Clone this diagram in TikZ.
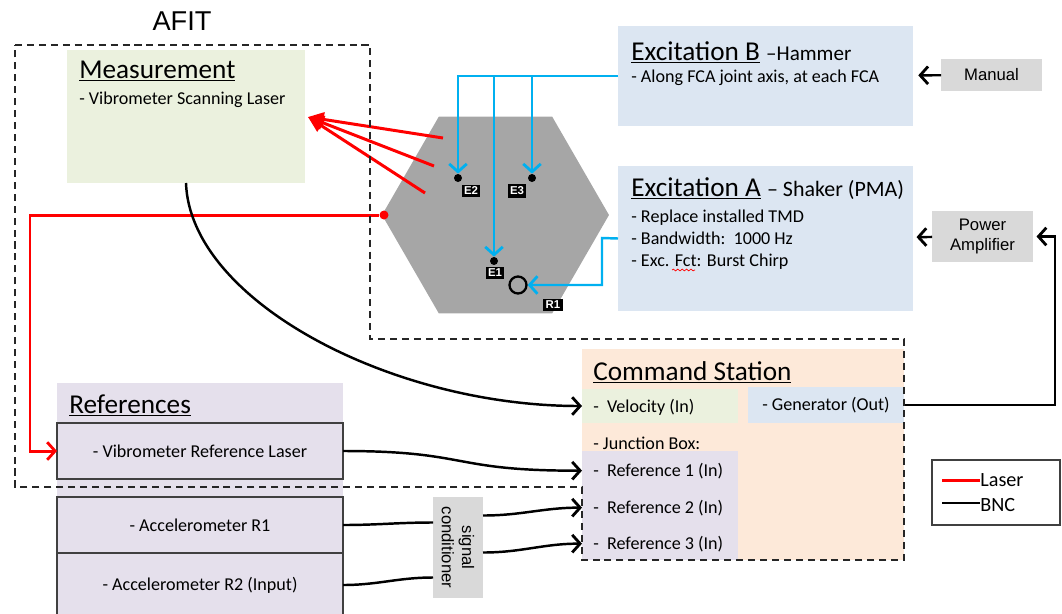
\documentclass[tikz,border=0pt]{standalone}
\usepackage{fontspec}
\setmainfont{Carlito}
\newfontfamily\arialfont{Liberation Sans}
\usetikzlibrary{arrows.meta}
\usetikzlibrary{positioning}
\usetikzlibrary{shapes.geometric}
\usetikzlibrary{decorations.pathmorphing}
\usetikzlibrary{calc}
\usetikzlibrary{fit}

\definecolor{measgreen}{RGB}{235,241,222}
\definecolor{excblue}{RGB}{220,230,242}
\definecolor{cmdorange}{RGB}{253,233,217}
\definecolor{refpurple}{RGB}{229,224,236}
\definecolor{boxgray}{RGB}{217,217,217}
\definecolor{plategray}{RGB}{166,166,166}
\definecolor{cableblue}{RGB}{0,176,240}

\begin{document}
\begin{tikzpicture}[x=0.02cm, y=-0.02cm,
    >={Straight Barb[length=4.5pt,width=10pt,line width=1.6pt]},
    region/.style={inner sep=0pt, outer sep=0pt},
    refbox/.style={region, fill=refpurple, draw=black!75, line width=0.6pt},
    graybox/.style={region, fill=boxgray},
    head/.style={inner sep=0pt, anchor=base west, font=\fontsize{15.5}{18}\selectfont},
    txt/.style={inner sep=0pt, anchor=base west, font=\fontsize{10.3}{12.5}\selectfont},
    ctxt/.style={inner sep=0pt, font=\fontsize{10.3}{12.5}\selectfont},
    atxt/.style={inner sep=0pt, align=center, font=\arialfont\fontsize{9.5}{11.5}\selectfont},
    pt/.style={circle, fill=black, inner sep=0pt, minimum size=0.16cm},
    tag/.style={fill=black, text=white, inner sep=1.4pt, font=\arialfont\bfseries\fontsize{6.5}{7}\selectfont},
    laser/.style={red, line width=1.7pt},
    bnc/.style={black, line width=1.4pt},
    hammer/.style={cableblue, line width=1.4pt},
    afit/.style={black!85, line width=1.3pt, dash pattern=on 4pt off 2.8pt}]

    \useasboundingbox (0,0) rectangle (1062,613);

    % boxes
    \node[region, fill=measgreen, fit={(67,50) (305,183)}]   (meas)  {};
    \node[region, fill=excblue, fit={(618,26) (913,126)}]    (exc_b) {};
    \node[region, fill=excblue, fit={(618,166) (913,311)}]   (exc_a) {};
    \node[region, fill=cmdorange, fit={(582,349) (904,560)}] (cmd)   {};
    \node[region, fill=measgreen, fit={(582,389) (738,423)}] (vel)   {};
    \node[region, fill=excblue, fit={(748,387) (904,423)}]   (gen)   {};
    \node[region, fill=refpurple, fit={(582,451) (738,560)}] (jbox)  {};
    \node[region, fill=refpurple, fit={(57,383) (343,625)}]  (refs)  {};
    \node[refbox, fit={(57,423) (343,479)}] (vref) {};
    \node[refbox, fit={(57,497) (343,553)}] (acc1) {};
    \node[refbox, fit={(57,553) (343,617)}] (acc2) {};
    \node[graybox, fit={(941,59) (1042,91)}]   (manual) {};
    \node[graybox, fit={(932,211) (1033,262)}] (pa)     {};
    \node[graybox, fit={(433,497) (483,598)}]  (sig)    {};

    % texts
    \node[font=\arialfont\fontsize{15.5}{18}\selectfont] (afit_lbl) at (182,21) {AFIT};
    \node[head] (meas_head) at (79,78)  {\underline{Measurement}};
    \node[txt]  (meas_txt)  at (79,104) {- Vibrometer Scanning Laser};
    \node[head] (excb_head) at (631,60) {\underline{Excitation B} {\fontsize{12}{14}\selectfont --Hammer}};
    \node[txt]  (excb_txt)  at (631,82) {- Along FCA joint axis, at each FCA};
    \node[head] (exca_head) at (631,196) {\underline{Excitation A} {\fontsize{12.5}{14}\selectfont -- Shaker (PMA)}};
    \node[txt]  (exca_1) at (631,222) {- Replace installed TMD};
    \node[txt]  (exca_2) at (631,244) {- Bandwidth:\ \ 1000 Hz};
    \node[txt]  (exca_3) at (631,266) {- Exc. Fct: Burst Chirp};
    \draw[red, line width=0.4pt, decorate, decoration={snake, amplitude=0.5pt, segment length=2.5pt}] (672,270) -- (695,270); % spell mark
    \node[head] (cmd_head) at (593,380) {\underline{Command Station}};
    \node[txt]  (vel_txt)  at (593,412) {-\ \ Velocity (In)};
    \node[ctxt] (gen_txt)  at (gen)     {- Generator (Out)};
    \node[txt]  (junc_txt) at (593,449) {- Junction Box:};
    \node[txt]  (ref1) at (593,476) {-\ \ Reference 1 (In)};
    \node[txt]  (ref2) at (593,513) {-\ \ Reference 2 (In)};
    \node[txt]  (ref3) at (593,549) {-\ \ Reference 3 (In)};
    \node[head] (refs_head) at (69,413) {\underline{References}};
    \node[ctxt] (vref_txt) at (vref) {- Vibrometer Reference Laser};
    \node[ctxt] (acc1_txt) at (acc1) {- Accelerometer R1};
    \node[ctxt] (acc2_txt) at (200,585) {- Accelerometer R2 (Input)};
    \node[atxt] (manual_txt) at (manual) {Manual};
    \node[atxt] (pa_txt) at (pa) {Power\\Amplifier};
    \node[atxt, rotate=-90] (sig_txt) at (sig) {signal\\conditioner};

    % plate with excitation and response points
    \node[regular polygon, regular polygon sides=6, minimum size=4.54cm, inner sep=0pt, fill=plategray] (plate) at (495.5,215) {};
    \node[pt] (e2) at (458,178) {};
    \node[pt] (e3) at (532,178) {};
    \node[pt] (e1) at (494,261) {};
    \node[circle, draw=black, line width=1.3pt, inner sep=0pt, minimum size=0.34cm] (r1) at (518,285) {};
    \node[tag] (e2_lbl) at (471,191) {E2};
    \node[tag] (e3_lbl) at (517,191) {E3};
    \node[tag] (e1_lbl) at (495,273) {E1};
    \node[tag] (r1_lbl) at (553,305) {R1};

    % laser
    \coordinate (scan) at (308,117);
    \coordinate (s1) at (443,138);
    \coordinate (s2) at (434,166);
    \coordinate (s3) at (425,193);
    \foreach \s in {s1,s2,s3}
        \draw[laser, -{Triangle[length=9pt,width=8pt]}] (\s) -- (scan);
    \node[circle, fill=red, inner sep=0pt, minimum size=0.18cm] (rdot) at (384,215) {};
    \draw[laser, ->] (rdot) -- (30,215) |- (vref);

    % hammer and shaker
    \draw[hammer, ->] (exc_b.west) -| (e2);
    \draw[hammer, ->] (e1 |- exc_b.west) -- (e1);
    \draw[hammer, ->] (e3 |- exc_b.west) -- (e3);
    \draw[hammer, ->] (exc_a.west) -- (602,238) |- (r1);

    % bnc
    \draw[bnc, ->] (meas.south) .. controls (190,300) and (390,406) .. (vel.west);
    \draw[bnc, ->] (vref.east) .. controls (470,451) and (450,471) .. (jbox.west |- ref1);
    \draw[bnc] (acc1.east) to[out=0, in=180] ($(sig.west)+(0,-25)$);
    \draw[bnc] (acc2.east) to[out=0, in=180] ($(sig.west)+(0,30)$);
    \draw[bnc, ->] ($(sig.east)+(0,-32)$) to[out=0, in=180] (jbox.west |- ref2);
    \draw[bnc, ->] ($(sig.east)+(0,5)$) to[out=0, in=180] (jbox.west |- ref3);
    \draw[bnc, ->, shorten >=3pt] (manual) -- (exc_b);
    \draw[bnc, ->, shorten >=2pt] (pa) -- (exc_a);
    \draw[bnc, ->, shorten >=2pt] (gen.east) -- (1055,405) |- (pa);

    % AFIT border
    \draw[afit] (15,45) -- (370,45) -- (370,339) -- (904,339) -- (904,560) -- (582,560) -- (582,487) -- (15,487) -- cycle;

    % legend
    \node[region, draw=black!75, line width=0.6pt, fit={(932,460) (1060,525)}] (legend) {};
    \node[anchor=west, inner sep=0pt, font=\fontsize{11.5}{13}\selectfont] (leg_laser) at (980,480) {Laser};
    \node[anchor=west, inner sep=0pt, font=\fontsize{11.5}{13}\selectfont] (leg_bnc)   at (980,505) {BNC};
    \draw[laser] ($(leg_laser.west)+(-38,0)$) -- (leg_laser.west);
    \draw[bnc]   ($(leg_bnc.west)+(-38,-2)$) -- ($(leg_bnc.west)+(0,-2)$);
\end{tikzpicture}
\end{document}
